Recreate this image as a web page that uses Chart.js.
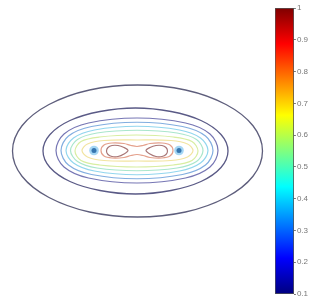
<!DOCTYPE html>
<html><head><meta charset="utf-8">
<script src="https://cdn.jsdelivr.net/npm/chart.js@4"></script>
<style>
html,body{margin:0;padding:0;background:#fff;width:309px;height:300px;overflow:hidden}
#main{position:absolute;left:0;top:0}
#cbar{position:absolute;left:262px;top:0}
</style></head>
<body>
<canvas id="main" width="274" height="300"></canvas>
<canvas id="cbar" width="47" height="300"></canvas>
<script>
// ---- data (closed contour lines, outer to inner) ----
const contourLevels = [0.1, 0.2, 0.3, 0.4, 0.5, 0.6, 0.7, 0.8, 0.9, 1.0, 1.0];
const c01 = [[0.01,1.31],[-0.95,1.21],[-1.76,0.92],[-2.30,0.495],[-2.49,-0.01],[-2.30,-0.515],[-1.76,-0.94],[-0.95,-1.23],[0.01,-1.33],[0.97,-1.23],[1.78,-0.94],[2.32,-0.515],[2.51,-0.01],[2.32,0.495],[1.78,0.92],[0.97,1.21]];
const c02 = [[-0.03,0.85],[-0.74,0.78],[-1.34,0.60],[-1.74,0.32],[-1.88,-0.01],[-1.74,-0.34],[-1.34,-0.62],[-0.74,-0.80],[-0.03,-0.87],[0.68,-0.80],[1.28,-0.62],[1.68,-0.34],[1.82,-0.01],[1.68,0.32],[1.28,0.60],[0.68,0.78]];
const c03 = [[0,0.65],[-0.97,0.55],[-1.46,0.33],[-1.62,0],[-1.46,-0.33],[-0.97,-0.55],[0,-0.65],[0.97,-0.55],[1.46,-0.33],[1.62,0],[1.46,0.33],[0.97,0.55]];
const c04 = [[0,0.565],[-0.91,0.48],[-1.37,0.29],[-1.52,0],[-1.37,-0.29],[-0.91,-0.48],[0,-0.565],[0.91,-0.48],[1.37,-0.29],[1.52,0],[1.37,0.29],[0.91,0.48]];
const c05 = [[0,0.485],[-0.85,0.41],[-1.27,0.25],[-1.42,0],[-1.27,-0.25],[-0.85,-0.41],[0,-0.485],[0.85,-0.41],[1.27,-0.25],[1.42,0],[1.27,0.25],[0.85,0.41]];
const c06 = [[0,0.405],[-0.80,0.35],[-1.19,0.22],[-1.33,0],[-1.19,-0.22],[-0.80,-0.35],[0,-0.405],[0.80,-0.35],[1.19,-0.22],[1.32,0],[1.19,0.22],[0.80,0.35]];
const c07 = [[-0.01,0.31],[-0.75,0.27],[-1.12,0.18],[-1.24,-0.01],[-1.12,-0.20],[-0.75,-0.29],[-0.01,-0.33],[0.73,-0.29],[1.10,-0.20],[1.22,-0.01],[1.10,0.18],[0.73,0.27]];
const c08 = [[0.01,0.21],[-0.66,0.20],[-0.99,0.13],[-1.10,0],[-0.99,-0.13],[-0.66,-0.20],[0.01,-0.21],[0.68,-0.20],[1.01,-0.13],[1.12,0],[1.01,0.13],[0.68,0.20]];
const c09 = [[0,0.08],[-0.12,0.10],[-0.26,0.14],[-0.50,0.15],[-0.66,0.11],[-0.72,0],[-0.66,-0.11],[-0.50,-0.15],[-0.26,-0.14],[-0.12,-0.10],[0,-0.08],[0.12,-0.10],[0.26,-0.14],[0.50,-0.15],[0.66,-0.11],[0.72,0],[0.66,0.11],[0.50,0.15],[0.26,0.14],[0.12,0.10]];
const c10a = [[-0.38,0.10],[-0.50,0.10],[-0.58,0.06],[-0.61,-0.01],[-0.58,-0.08],[-0.50,-0.12],[-0.38,-0.12],[-0.26,-0.07],[-0.18,0],[-0.26,0.06]];
const c10b = [[0.38,0.10],[0.26,0.06],[0.18,0],[0.26,-0.07],[0.38,-0.12],[0.50,-0.12],[0.58,-0.08],[0.61,-0.01],[0.58,0.06],[0.50,0.10]];
const sourcePoints = [[-0.86,0],[0.84,0]];
const colorbarMin = 0.1, colorbarMax = 1;
const colorbarTicks = [0.1,0.2,0.3,0.4,0.5,0.6,0.7,0.8,0.9,1];

// ---- styles ----
const contours = [c01,c02,c03,c04,c05,c06,c07,c08,c09,c10a,c10b];
const lineColors = ['#5e5e7c','#5a5a86','#7676b4','#82aee0','#92d6ee','#aae6cc','#d8eea2','#f2e4a0','#e4a08c','#a87676','#a87676'];
const jetStops = [[0,'#00007f'],[0.125,'#0000ff'],[0.375,'#00ffff'],[0.625,'#ffff00'],[0.875,'#ff0000'],[1,'#7f0000']];

const toXY = arr => arr.map(p => ({x:p[0], y:p[1]}));

const datasets = contours.map((c,i) => ({
  label: 'level ' + contourLevels[i],
  data: toXY(c),
  showLine: true,
  closedLoop: true,
  spanGaps: true,
  borderColor: lineColors[i],
  borderWidth: i < 2 ? 1.3 : 1.2,
  pointRadius: 0,
  tension: 0.34,
  fill: false
}));
datasets.push({label:'halo', data: toXY(sourcePoints), showLine:false, pointRadius:4.8, pointBackgroundColor:'rgba(90,180,235,0.55)', pointBorderWidth:0});
datasets.push({label:'source', data: toXY(sourcePoints), showLine:false, pointRadius:2.5, pointBackgroundColor:'#0c2a66', pointBorderWidth:0});

// close contour lines smoothly (like radar lines)
const closeLoops = {
  id:'closeLoops',
  afterDatasetUpdate(chart, args) {
    const ds = chart.data.datasets[args.index];
    if (!ds.closedLoop) return;
    const line = args.meta.dataset;
    if (!line) return;
    line._loop = true;
    line._fullLoop = true;
    line._segments = undefined;
    line._pointsUpdated = false;
  }
};

new Chart(document.getElementById('main'), {
  type: 'scatter',
  data: {datasets},
  plugins: [closeLoops],
  options: {
    responsive:false, animation:false,
    layout:{padding:0, autoPadding:false},
    plugins:{legend:{display:false}, tooltip:{enabled:false}},
    scales:{
      x:{type:'linear', min:-2.74, max:2.74, display:false},
      y:{type:'linear', min:-2.99, max:3.01, display:false}
    }
  }
});

new Chart(document.getElementById('cbar'), {
  type:'bar',
  data:{labels:[''], datasets:[{
    data:[[colorbarMin, colorbarMax]],
    backgroundColor: ctx => {
      const chart = ctx.chart;
      if (!chart.chartArea) return '#0000ff';
      const ys = chart.scales.y;
      const g = chart.ctx.createLinearGradient(0, ys.getPixelForValue(colorbarMin), 0, ys.getPixelForValue(colorbarMax));
      jetStops.forEach(s => g.addColorStop(s[0], s[1]));
      return g;
    },
    borderColor:'#555', borderWidth:1, borderSkipped:false,
    barPercentage:1, categoryPercentage:1
  }]},
  options:{
    responsive:false, animation:false,
    layout:{padding:{left:13, top:8, bottom:6, right:0}, autoPadding:false},
    plugins:{legend:{display:false}, tooltip:{enabled:false}},
    scales:{
      x:{display:false},
      y:{position:'right', min:colorbarMin, max:colorbarMax,
        afterBuildTicks: axis => { axis.ticks = colorbarTicks.map(v => ({value:v})); },
        ticks:{font:{size:8, family:'Liberation Sans, Arial, sans-serif'}, color:'#777', padding:1,
          callback: v => (v === 1 ? '1' : Number(v).toFixed(1))},
        grid:{drawOnChartArea:false, tickLength:2, color:'#777'},
        border:{display:false}
      }
    }
  }
});
</script>
</body></html>
